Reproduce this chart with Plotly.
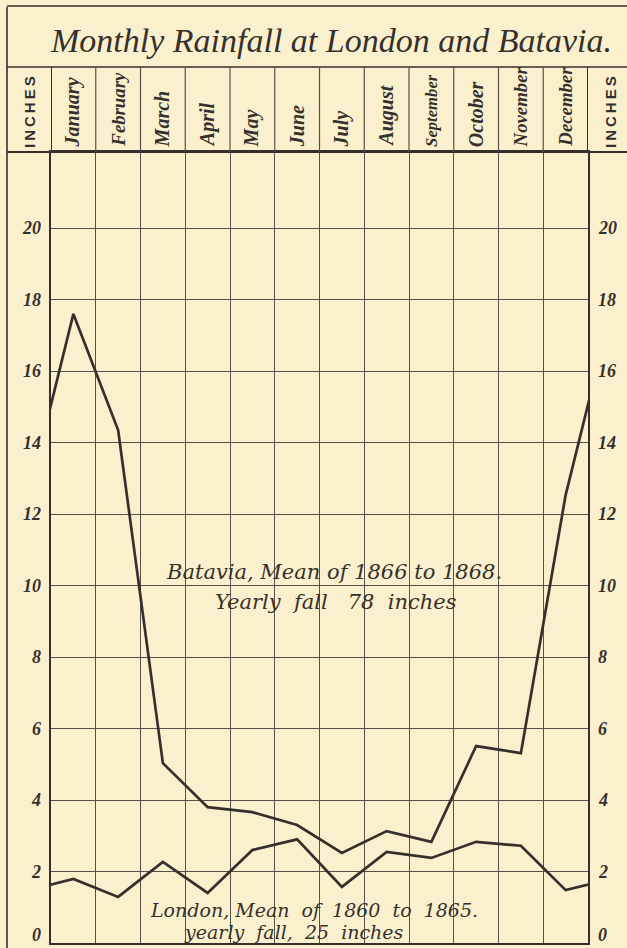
import plotly.graph_objects as go

months = ["January", "February", "March", "April", "May", "June", "July",
          "August", "September", "October", "November", "December"]
batavia = [17.6, 14.35, 5.03, 3.8, 3.66, 3.3, 2.52, 3.13, 2.83, 5.51, 5.31, 12.53]
london = [1.79, 1.29, 2.27, 1.4, 2.6, 2.9, 1.57, 2.55, 2.38, 2.83, 2.72, 1.48]
ytick_vals = [0, 2, 4, 6, 8, 10, 12, 14, 16, 18, 20]
ytick_text = ["0", "2", "4", "6", "8", "10", "12", "14", "16", "18", "20"]

title_text = "Monthly Rainfall at London and Batavia."
batavia_note = ["Batavia, Mean of 1866 to 1868.", "Yearly  fall   78  inches"]
london_note = ["London, Mean  of  1860  to  1865.", "yearly  fall,  25  inches"]
axis_label = "I\u2009N\u2009C\u2009H\u2009E\u2009S"

W, H = 627, 948
L, R, T, B = 51, 588, 152, 943
YMAX = 22.13

INK = "#35302c"
GRID = "#57514c"
BG = "#FBF0CE"
SERIF = "Liberation Serif"
NOTE_SERIF = "DejaVu Serif"


def px(x):
    return (x - L) / (R - L)


def py(y):
    return (B - y) / (B - T)


n = len(months)
xs = [-0.5] + [i + 0.5 for i in range(n)] + [n + 0.5]


def wrap(v):
    return [v[-1]] + v + [v[0]]


fig = go.Figure()
fig.add_trace(go.Scatter(x=xs, y=wrap(batavia), mode="lines", name="Batavia",
                         line=dict(color=INK, width=2.7), hoverinfo="skip"))
fig.add_trace(go.Scatter(x=xs, y=wrap(london), mode="lines", name="London",
                         line=dict(color=INK, width=2.7), hoverinfo="skip"))

fig.update_layout(
    width=W, height=H,
    margin=dict(l=L, r=W - R, t=T, b=H - B, pad=0, autoexpand=False),
    paper_bgcolor=BG, plot_bgcolor=BG,
    showlegend=False,
    xaxis=dict(range=[0, n], dtick=1, tick0=0, showgrid=True, gridcolor=GRID,
               gridwidth=1.2, showticklabels=False, ticks="", zeroline=False,
               showline=True, linecolor=INK, linewidth=2, mirror=True,
               automargin=False, fixedrange=True),
    yaxis=dict(range=[0, YMAX], tickvals=ytick_vals, ticktext=ytick_text,
               showgrid=True, gridcolor=GRID, gridwidth=1.2, zeroline=False,
               showline=True, linecolor=INK, linewidth=2, mirror=True,
               ticks="", showticklabels=False, automargin=False, fixedrange=True),
)

shapes = []
line_style = dict(color=INK, width=1.6)
shapes.append(dict(type="line", xref="paper", yref="paper",
                   x0=px(7), x1=px(7), y0=py(7), y1=py(H + 2), line=line_style))
shapes.append(dict(type="line", xref="paper", yref="paper",
                   x0=px(7), x1=px(W + 2), y0=py(6), y1=py(6), line=line_style))
shapes.append(dict(type="line", xref="paper", yref="paper",
                   x0=px(7), x1=px(W + 2), y0=py(67), y1=py(67), line=line_style))
shapes.append(dict(type="line", xref="paper", yref="paper",
                   x0=px(7), x1=px(W + 2), y0=1, y1=1, line=dict(color=INK, width=2)))
for i in range(n + 1):
    edge = i in (0, n)
    shapes.append(dict(type="line", xref="x", yref="paper", x0=i, x1=i,
                       y0=1, y1=py(67),
                       line=dict(color=INK if edge else GRID, width=2 if edge else 1.2)))
fig.update_layout(shapes=shapes)

ann = []
ann.append(dict(text=title_text, xref="paper", yref="paper", x=px(331), y=py(40),
                xanchor="center", yanchor="middle", showarrow=False,
                font=dict(family=SERIF, size=34, color=INK, style="italic")))
for i, m in enumerate(months):
    size = min(20, 150 / len(m))
    ann.append(dict(text=m, xref="x", yref="paper", x=i + 0.5, y=py(149),
                    xanchor="center", yanchor="bottom", textangle=-90, showarrow=False,
                    font=dict(family=SERIF, size=size, color=INK, style="italic",
                              weight="bold")))
for xp in (29, 610):
    ann.append(dict(text=axis_label, xref="paper", yref="paper", x=px(xp), y=py(112),
                    xanchor="center", yanchor="middle", textangle=-90, showarrow=False,
                    font=dict(family="Liberation Sans", size=15, color=INK, weight="bold")))

# inch scale labels on both sides, placed through the y axis
tickfont = dict(family=SERIF, size=18, color=INK, style="italic", weight="bold")
for v, t in zip(ytick_vals, ytick_text):
    at_base = v == ytick_vals[0]
    for xp, anchor in ((43, "right"), (596, "left")):
        ann.append(dict(text=t, xref="paper", yref="y", x=px(xp), y=v,
                        xanchor=anchor, yanchor="bottom" if at_base else "middle",
                        yshift=-4 if at_base else 0, showarrow=False, font=tickfont))

bfont = dict(family=NOTE_SERIF, size=21, color=INK, style="italic")
for txt, (xc, yc) in zip(batavia_note, [(334, 572), (336, 602)]):
    ann.append(dict(text=txt, xref="paper", yref="paper", x=px(xc), y=py(yc),
                    xanchor="center", yanchor="middle", showarrow=False, font=bfont))
lfont = dict(family=NOTE_SERIF, size=19, color=INK, style="italic")
for txt, (xc, yc) in zip(london_note, [(314, 910), (294, 932)]):
    ann.append(dict(text=txt, xref="paper", yref="paper", x=px(xc), y=py(yc),
                    xanchor="center", yanchor="middle", showarrow=False, font=lfont))
fig.update_layout(annotations=ann)

fig.write_html(
    "out.html",
    config={"displayModeBar": False},
    post_script="document.body.style.margin='0';"
                "document.body.style.background='" + BG + "';"
                "document.body.style.overflow='hidden';",
)
